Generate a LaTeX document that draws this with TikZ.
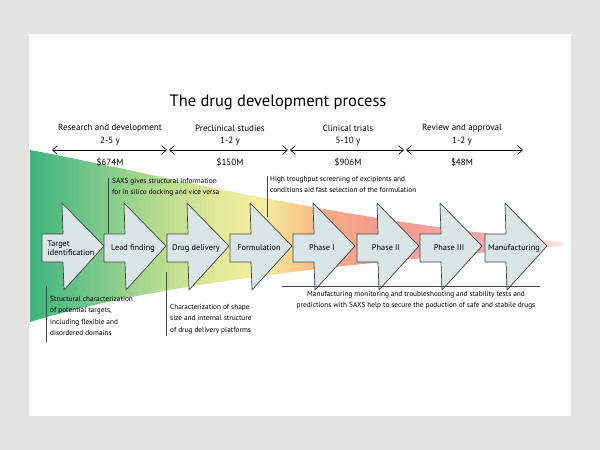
\documentclass[tikz,border=0pt]{standalone}
\usepackage{fontspec}
\setmainfont{PT Sans}
\usetikzlibrary{arrows.meta}

\definecolor{fond}{HTML}{E4E4E4}
\definecolor{fleche}{HTML}{D9E5E7}
\definecolor{trait}{HTML}{454545}
\definecolor{vertA}{HTML}{3DB57E}
\definecolor{vertB}{HTML}{7DC98B}
\definecolor{vertC}{HTML}{B7DC8F}
\definecolor{jauneA}{HTML}{E2EA99}
\definecolor{jauneB}{HTML}{F5EE9E}
\definecolor{orangeA}{HTML}{F8C98A}
\definecolor{orangeB}{HTML}{F6AA82}
\definecolor{rougeA}{HTML}{F49C92}
\definecolor{rougeB}{HTML}{F5A6A6}
\definecolor{rougeC}{HTML}{FCE6E6}

\pgfdeclarehorizontalshading{bande}{100bp}{color(0bp)=(vertA); color(25bp)=(vertA);
  color(31.6bp)=(vertB); color(37.2bp)=(vertC); color(42.8bp)=(jauneA);
  color(47bp)=(jauneB); color(50.3bp)=(orangeA); color(53.1bp)=(orangeB);
  color(57.8bp)=(rougeA); color(67.2bp)=(rougeB); color(75bp)=(rougeC);
  color(100bp)=(rougeC)}

\begin{document}
\begin{tikzpicture}[x=1pt,y=-1pt]
		\tikzset{
		  contour/.style={draw=trait, fill=fleche, line width=0.7pt, line join=round},
		  etiq/.style={font=\fontsize{8.3}{9.5}\selectfont, inner sep=0pt, align=center},
		  etape/.pic={
		    \draw[contour] (0,-14) -- (21,-14) -- (20,-45) -- (62,-2) -- (22,42) -- (21,14) -- (0,14) -- cycle;
		    \node[etiq] (-t) at (29,0) {\tikzpictext};
		  },
		  note/.style={font=\fontsize{7.3}{11.3}\selectfont, inner sep=0pt, align=left, anchor=north west},
		  entete/.style={font=\fontsize{9}{10}\selectfont, inner sep=0pt},
		  titre/.style={font=\fontsize{16.5}{18}\selectfont, inner sep=0pt},
		  periode/.style={{Straight Barb[length=5pt,width=9pt]}-{Straight Barb[length=5pt,width=9pt]}, line width=0.6pt},
		  repere/.style={draw=trait, line width=0.5pt}
		}

    % cadre
    \fill[fond] (0,0) rectangle (600,450);
    \fill[white] (29,34) rectangle (571,416);

    % bande de couleur
    \shade[shading=bande] (30,150) .. controls (150,172) and (320,218) .. (563,242)
      -- (563,246) .. controls (360,262) and (160,282) .. (30,322) -- cycle;

    % titre et periodes
    \node[titre] (titre) at (278,102) {The drug development process};

    \node[entete] (p1) at (110,128) {Research and development};
    \node[entete] (d1) at (110,141) {2-5 y};
    \node[entete] (c1) at (110,162) {\$674M};
    \node[entete] (p2) at (230,128) {Preclinical studies};
    \node[entete] (d2) at (230,141) {1-2 y};
    \node[entete] (c2) at (230,162) {\$150M};
    \node[entete] (p3) at (348,128) {Clinical trials};
    \node[entete] (d3) at (348,141) {5-10 y};
    \node[entete] (c3) at (348,162) {\$906M};
    \node[entete] (p4) at (462,128) {Review and approval};
    \node[entete] (d4) at (462,141) {1-2 y};
    \node[entete] (c4) at (462,162) {\$48M};

    \coordinate (a0) at (52,150);
    \coordinate (a1) at (167,150);
    \coordinate (b0) at (169,150);
    \coordinate (b1) at (288,150);
    \coordinate (e0) at (290,150);
    \coordinate (e1) at (404,150);
    \coordinate (f0) at (406,150);
    \coordinate (f1) at (523,150);
    \draw[periode] (a0) -- (a1);
    \draw[periode] (b0) -- (b1);
    \draw[periode] (e0) -- (e1);
    \draw[periode] (f0) -- (f1);

    % etapes
    \pic[etiq/.append style={align=left}, pic text={Target\\identification}] (cible) at (42,248) {etape};
    \pic[pic text={Lead finding}] (lead) at (104,248) {etape};
    \pic[pic text={Drug delivery}] (livr) at (167,248) {etape};
    \pic[pic text={Formulation}] (form) at (230,248) {etape};
    \pic[pic text={Phase I}] (ph1) at (293,248) {etape};
    \pic[pic text={Phase II}] (ph2) at (357,248) {etape};
    \pic[pic text={Phase III}] (ph3) at (420,248) {etape};
    \pic[pic text={Manufacturing}] (fab) at (485,248) {etape};

    % notes
    \node[note] (n1) at (112,178) {SAXS gives structural information\\for in silico docking and vice versa};
    \node[note] (n2) at (270,176) {High troughput screening of excipients and\\conditions aid fast selection of the formulation};
    \node[note] (n3) at (50,296) {Structural characterization\\of potential targets,\\including flexible and\\disordered domains};
    \node[note] (n4) at (170,304) {Characterization of shape\\size and internal structure\\of drug delivery platforms};
    \node[note, anchor=north, align=center] (n5) at (416,291) {Manufacturing monitoring and troubleshooting and stability tests and\\predictions with SAXS help to secure the poduction of safe and stabile drugs};

    \coordinate (r1a) at (108,178);
    \coordinate (r1b) at (108,233);
    \coordinate (r2a) at (267,176);
    \coordinate (r2b) at (267,217);
    \coordinate (r3a) at (46,286);
    \coordinate (r3b) at (46,342);
    \coordinate (r4a) at (166,272);
    \coordinate (r4b) at (166,336);
    \coordinate (r5a) at (282,286);
    \coordinate (r5b) at (540,286);
    \draw[repere] (r1a) -- (r1b);
    \draw[repere] (r2a) -- (r2b);
    \draw[repere] (r3a) -- (r3b);
    \draw[repere] (r4a) -- (r4b);
    \draw[repere] (r5a) -- (r5b);

		\end{tikzpicture}
\end{document}
